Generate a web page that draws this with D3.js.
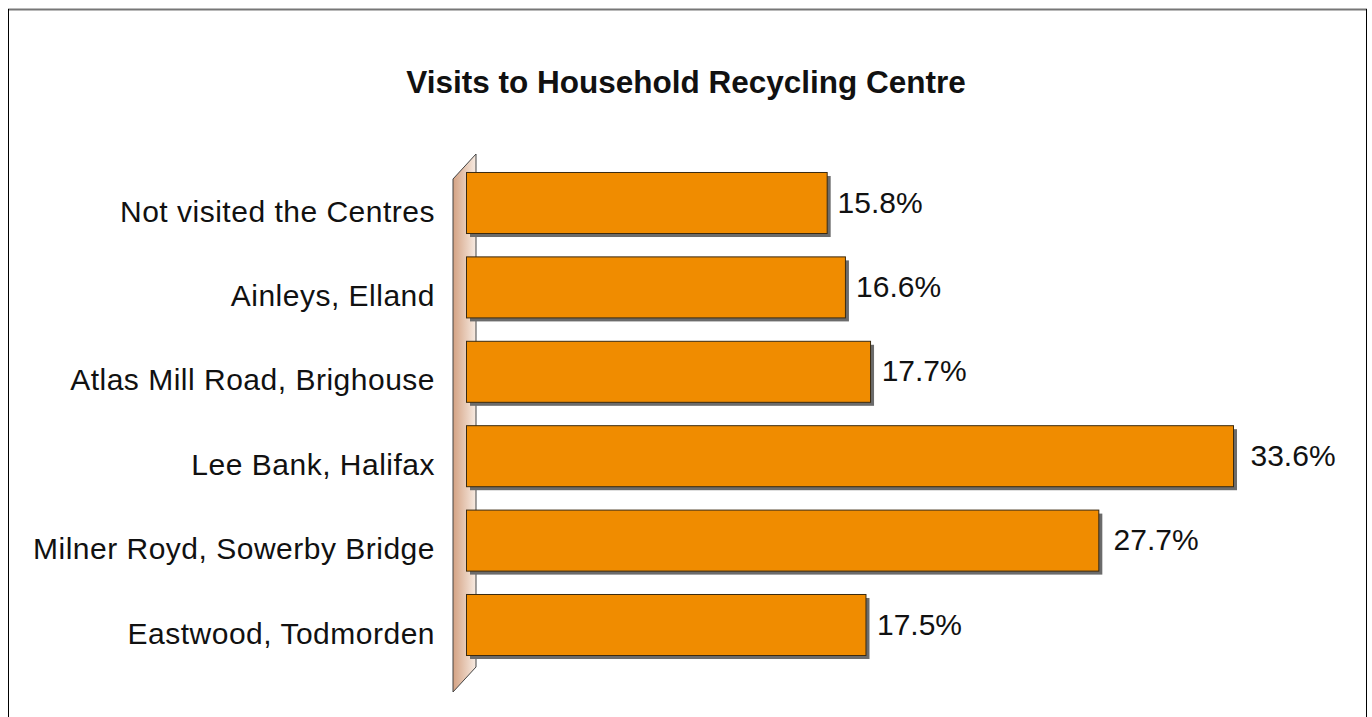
<!DOCTYPE html>
<html>
<head>
<meta charset="utf-8">
<script src="https://cdn.jsdelivr.net/npm/d3@7"></script>
<style>
  body { margin: 0; background: #fff; }
  text { font-family: "Liberation Sans", Arial, sans-serif; fill: #111; }
</style>
</head>
<body>
<div id="vis"></div>
<script>
// Chart data
const categories = ["Not visited the Centres", "Ainleys, Elland", "Atlas Mill Road, Brighouse",
  "Lee Bank, Halifax", "Milner Royd, Sowerby Bridge", "Eastwood, Todmorden"]
const values = [15.8, 16.6, 17.7, 33.6, 27.7, 17.5]
const title = "Visits to Household Recycling Centre"

const W = 1372, H = 717

const svg = d3.select("#vis").append("svg")
    .attr("width", W)
    .attr("height", H)

// frame
svg.append("line").attr("x1", 8).attr("x2", 1367).attr("y1", 9.5).attr("y2", 9.5)
    .style("stroke", "#777").style("stroke-width", 2)
svg.append("line").attr("x1", 8.5).attr("x2", 8.5).attr("y1", 9).attr("y2", H)
    .style("stroke", "#000").style("stroke-width", 1)
svg.append("line").attr("x1", 1366.5).attr("x2", 1366.5).attr("y1", 9).attr("y2", H)
    .style("stroke", "#000").style("stroke-width", 1)

svg.append("text")
    .attr("x", 686).attr("y", 93)
    .attr("text-anchor", "middle")
    .style("font-weight", "bold")
    .style("font-size", "31.5px")
    .text(title)

// scales
const x = d3.scaleLinear().domain([0, 33.6]).range([466, 1233])
// labels sit on a slightly steeper scale in the original
const xLabel = d3.scaleLinear().domain([0, 33.6]).range([471, 1250.5])
const y = d3.scaleBand().domain(categories).range([160.3, 666.7])
    .paddingInner(0.277).paddingOuter(0.1385)

// wall gradient
const defs = svg.append("defs")
const grad = defs.append("linearGradient").attr("id", "wall")
    .attr("x1", "0%").attr("x2", "100%")
grad.append("stop").attr("offset", "0%").attr("stop-color", "#d4a283")
grad.append("stop").attr("offset", "100%").attr("stop-color", "#f7ebe2")

const wx0 = 453, wx1 = 476, wTop = 154, wBot = 667, depth = 25
svg.append("path")
    .attr("d", `M${wx0},${wTop + depth} L${wx1},${wTop} L${wx1},${wBot} L${wx0},${wBot + depth} Z`)
    .style("fill", "url(#wall)")
    .style("stroke", "#444")
    .style("stroke-width", 1)

// shadows
svg.selectAll("rect.shadow")
    .data(values)
    .enter()
    .append("rect")
    .attr("class", "shadow")
    .attr("x", x(0) + 4)
    .attr("y", (d, i) => y(categories[i]) + 4)
    .attr("width", d => x(d) - x(0))
    .attr("height", y.bandwidth())
    .style("fill", "#6b6b6b")

// bars
svg.selectAll("rect.bar")
    .data(values)
    .enter()
    .append("rect")
    .attr("class", "bar")
    .attr("x", x(0) + 0.5)
    .attr("y", (d, i) => y(categories[i]) + 0.5)
    .attr("width", d => x(d) - x(0))
    .attr("height", y.bandwidth())
    .style("fill", "#f08c00")
    .style("stroke", "#3a2a10")
    .style("stroke-width", 1)

// value labels
svg.selectAll("text.val")
    .data(values)
    .enter()
    .append("text")
    .attr("class", "val")
    .attr("x", d => xLabel(d))
    .attr("y", (d, i) => y(categories[i]) + y.bandwidth() / 2 + 10)
    .style("font-size", "30px")
    .text(d => d.toFixed(1) + "%")

// category labels
svg.selectAll("text.cat")
    .data(categories)
    .enter()
    .append("text")
    .attr("class", "cat")
    .attr("x", 435)
    .attr("y", d => y(d) + y.bandwidth() / 2 + 19)
    .attr("text-anchor", "end")
    .style("font-size", "30px")
    .style("letter-spacing", "0.5px")
    .text(d => d)
</script>
</body>
</html>
